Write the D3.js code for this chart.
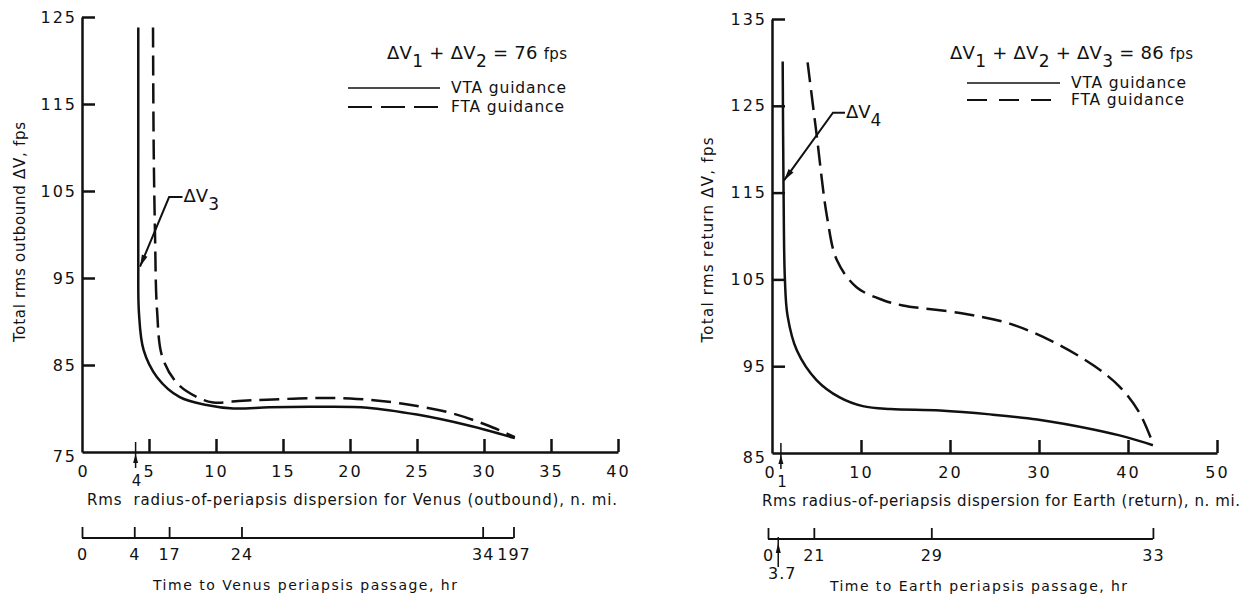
<!DOCTYPE html>
<html>
<head>
<meta charset="utf-8">
<script src="https://d3js.org/d3.v7.min.js"></script>
<style>
  body { margin: 0; background: #fff; }
  text { font-family: "DejaVu Sans", sans-serif; fill: #111; white-space: pre; }
</style>
</head>
<body>
<svg id="chart" width="1258" height="600"></svg>
<script>
// ---- Venus (outbound) panel data: [dispersion n.mi., total rms dV fps]
var venusVTA = [[4.2,123.8],[4.2,110],[4.2,97],[4.25,91],[4.6,86.7],[5.6,83.6],[7.3,81.3],[9.3,80.4],[11.3,80.0],[14,80.15],[17.5,80.2],[21.3,80.1],[25,79.3],[28.7,78.1],[32.3,76.6]];
var venusFTA = [[5.3,123.8],[5.35,110],[5.45,100],[5.6,91.3],[6.0,85.9],[7.1,82.9],[8.6,81.3],[9.8,80.7],[12,80.9],[13.8,81.0],[17.2,81.2],[20.5,81.1],[23.7,80.6],[27.5,79.5],[30.2,78.1],[32.3,76.7]];
var venusXTicks = [0,5,10,15,20,25,30,35,40];
var venusYTicks = [75,85,95,105,115,125];
var venusTimePos = [0,3.9,6.5,11.9,29.9,32.2];
var venusTimeLabels = ["0","4","17","24","34","197"];

// ---- Earth (return) panel data
var earthVTA = [[1.2,130.1],[1.3,115],[1.45,105],[1.75,100.8],[2.8,96.8],[5.0,93.4],[7.6,91.4],[10.2,90.4],[13.3,90.06],[18.9,89.9],[24.5,89.45],[29.8,88.85],[36.1,87.7],[39.9,86.8],[42.8,85.9]];
var earthFTA = [[4.0,130],[5.0,121.8],[6.2,112.1],[7.3,107.2],[9.5,104.1],[12.5,102.6],[14.7,102.0],[21.3,101.1],[26.7,99.9],[31.6,97.8],[36.1,95.1],[39.1,92.6],[41.3,89.6],[42.8,86.1]];
var earthXTicks = [0,10,20,30,40,50];
var earthYTicks = [85,95,105,115,125,135];
var earthTimePos = [-0.45,4.7,17.9,42.8];
var earthTimeLabels = ["0","21","29","33"];

var svg = d3.select("#chart");

function arrowHead(g, x1, y1, x2, y2, len, wid){
    // filled triangle with tip at (x2,y2)
    var a = Math.atan2(y2 - y1, x2 - x1);
    var bx = x2 - len*Math.cos(a), by = y2 - len*Math.sin(a);
    var px = -Math.sin(a)*wid/2, py = Math.cos(a)*wid/2;
    g.append("path")
        .attr("d", "M" + x2 + "," + y2 + "L" + (bx+px) + "," + (by+py) + "L" + (bx-px) + "," + (by-py) + "Z")
        .attr("fill", "#111");
}

function drawPanel(p){
    var g = svg.append("g");
    var x = d3.scaleLinear().domain(p.xDomain).range(p.xRange);
    var y = d3.scaleLinear().domain(p.yDomain).range(p.yRange);

    // axes
    var xa = g.append("g")
        .attr("transform", "translate(0," + p.yRange[0] + ")")
        .call(d3.axisBottom(x).tickValues(p.xTicks).tickSize(-13).tickSizeOuter(0).tickPadding(14));
    var ya = g.append("g")
        .attr("transform", "translate(" + p.xRange[0] + ",0)")
        .call(d3.axisLeft(y).tickValues(p.yTicks).tickSize(-13).tickSizeOuter(0).tickPadding(5));
    [xa, ya].forEach(function(a){
        a.selectAll("path, line").attr("stroke", "#111").attr("stroke-width", 2.5);
        a.selectAll("text").attr("font-size", 16).attr("letter-spacing", 2).attr("fill", "#111")
            .attr("font-family", "DejaVu Sans");
    });
    var zero = xa.selectAll(".tick").filter(function(d){ return d == 0; });
    zero.select("line").remove();
    zero.select("text").attr("letter-spacing", 0).attr("dx", p.zeroShift);
    ya.selectAll(".tick").filter(function(d){ return d == p.yDomain[0]; }).select("line").remove();
    ya.selectAll(".tick").filter(function(d){ return d == p.yDomain[0]; }).select("text").attr("dy", "0.6em");

    // marked value under the x axis
    var y0 = p.yRange[0], mx = x(p.markX);
    g.append("line").attr("x1", mx).attr("x2", mx).attr("y1", y0 - 10).attr("y2", y0 + 16)
        .attr("stroke", "#111").attr("stroke-width", 1.5);
    arrowHead(g, mx, y0 + 14, mx, y0 + 2, 9, 5);
    g.append("text").attr("x", mx + 1).attr("y", y0 + 34).attr("text-anchor", "middle")
        .attr("font-size", 15).text(p.markLabel);

    // curves
    var line = d3.line()
        .curve(d3.curveCatmullRom.alpha(0.5))
        .x(function(d){ return x(d[0]); })
        .y(function(d){ return y(d[1]); });
    g.append("path").datum(p.vta).attr("d", line)
        .attr("fill", "none").attr("stroke", "#111").attr("stroke-width", 2.5);
    g.append("path").datum(p.fta).attr("d", line)
        .attr("fill", "none").attr("stroke", "#111").attr("stroke-width", 2.5).attr("stroke-dasharray", "20,8");

    // dV annotation
    var ex = x(p.note.elbow[0]), ey = y(p.note.elbow[1]);
    var tx = x(p.note.tip[0]), ty = y(p.note.tip[1]);
    g.append("path").attr("d", "M" + x(p.note.end) + "," + ey + "L" + ex + "," + ey + "L" + tx + "," + ty)
        .attr("fill", "none").attr("stroke", "#111").attr("stroke-width", 2);
    arrowHead(g, ex, ey, tx, ty, 12, 6);
    var nt = g.append("text").attr("x", x(p.note.end) + 1).attr("y", ey + 5).attr("font-size", 18).text("ΔV");
    nt.append("tspan").attr("dy", 8).attr("font-size", 17).text(p.note.sub);

    // legend
    var lg = p.legend;
    var t = g.append("text").attr("x", lg.tx).attr("y", lg.ty).attr("font-size", 18).attr("textLength", lg.tw);
    lg.terms.forEach(function(s, i){
        t.append("tspan").attr("dy", i == 0 ? 0 : -8).text((i == 0 ? "" : " + ") + "ΔV");
        t.append("tspan").attr("dy", 8).attr("font-size", 17).text(s);
    });
    t.append("tspan").attr("dy", -8).text(" = " + lg.total + " ");
    t.append("tspan").attr("font-size", 15).text("fps");
    g.append("line").attr("x1", lg.lx1).attr("x2", lg.lx2).attr("y1", lg.y1).attr("y2", lg.y1)
        .attr("stroke", "#111").attr("stroke-width", 1.6);
    g.append("line").attr("x1", lg.lx1).attr("x2", lg.lx2).attr("y1", lg.y2).attr("y2", lg.y2)
        .attr("stroke", "#111").attr("stroke-width", 2).attr("stroke-dasharray", lg.dash);
    g.append("text").attr("x", lg.lx2 + 11).attr("y", lg.y1 + 5).attr("font-size", 15.5)
        .attr("textLength", lg.lw).text("VTA guidance");
    g.append("text").attr("x", lg.lx2 + 11).attr("y", lg.y2 + 5).attr("font-size", 15.5)
        .attr("textLength", lg.lw - 2).text("FTA guidance");

    // axis titles
    g.append("text").attr("x", p.xTitle.x).attr("y", p.xTitle.y).attr("font-size", 15)
        .attr("textLength", p.xTitle.w).text(p.xTitle.text);
    g.append("text").attr("transform", "translate(" + p.yTitle.x + "," + p.yTitle.y + ") rotate(-90)")
        .attr("text-anchor", "middle").attr("font-size", 15).attr("textLength", p.yTitle.w).text(p.yTitle.text);

    // time scale under the chart
    var ty0 = p.time.y;
    var ta = g.append("g").attr("transform", "translate(0," + ty0 + ")")
        .call(d3.axisBottom(x).tickValues(p.time.pos).tickFormat(function(d, i){ return p.time.labels[i]; })
            .tickSize(-11).tickPadding(11));
    ta.select(".domain").remove();
    ta.selectAll("line").attr("stroke", "#111").attr("stroke-width", 1.8);
    ta.selectAll("text").attr("font-size", 16).attr("letter-spacing", 1).attr("fill", "#111")
        .attr("font-family", "DejaVu Sans");
    ta.append("line").attr("x1", x(p.time.pos[0])).attr("x2", x(p.time.pos[p.time.pos.length - 1]))
        .attr("y1", 0).attr("y2", 0).attr("stroke", "#111").attr("stroke-width", 1.8);
    if (p.time.markX != null){
        var ax = x(p.time.markX);
        g.append("line").attr("x1", ax).attr("x2", ax).attr("y1", ty0 - 2).attr("y2", ty0 + 28)
            .attr("stroke", "#111").attr("stroke-width", 1.5);
        arrowHead(g, ax, ty0 + 20, ax, ty0 + 4, 10, 5);
        g.append("text").attr("x", ax + 4).attr("y", ty0 + 40).attr("text-anchor", "middle")
            .attr("font-size", 16).attr("letter-spacing", 1).text(p.time.markLabel);
    }
    g.append("text").attr("x", p.time.tx).attr("y", ty0 + 52).attr("font-size", 14)
        .attr("textLength", p.time.tw).text(p.time.title);
}

drawPanel({
    xDomain: [0, 40], xRange: [82, 618], yDomain: [75, 125], yRange: [452, 17],
    xTicks: venusXTicks, yTicks: venusYTicks, zeroShift: 0,
    markX: 4, markLabel: "4",
    vta: venusVTA, fta: venusFTA,
    note: {elbow: [6.5, 104.3], end: 7.5, tip: [4.33, 96.3], sub: "3"},
    legend: {tx: 387, ty: 59, tw: 180, terms: ["1", "2"], total: "76",
             lx1: 348, lx2: 440, y1: 88, y2: 107, dash: "24,9", lw: 115},
    xTitle: {x: 87, y: 505, w: 530, text: "Rms  radius-of-periapsis dispersion for Venus (outbound), n. mi."},
    yTitle: {x: 25, y: 232, w: 220, text: "Total rms outbound ΔV, fps"},
    time: {y: 538, pos: venusTimePos, labels: venusTimeLabels, markX: null,
           tx: 153, tw: 304, title: "Time to Venus periapsis passage, hr"}
});

drawPanel({
    xDomain: [0, 50], xRange: [772, 1217], yDomain: [85, 135], yRange: [453, 19],
    xTicks: earthXTicks, yTicks: earthYTicks, zeroShift: -3,
    markX: 1, markLabel: "1",
    vta: earthVTA, fta: earthFTA,
    note: {elbow: [6.85, 124.2], end: 8.2, tip: [1.35, 116.4], sub: "4"},
    legend: {tx: 950, ty: 59, tw: 243, terms: ["1", "2", "3"], total: "86",
             lx1: 967, lx2: 1060, y1: 83, y2: 100, dash: "20,12", lw: 115},
    xTitle: {x: 762, y: 506, w: 478, text: "Rms radius-of-periapsis dispersion for Earth (return), n. mi."},
    yTitle: {x: 713, y: 240, w: 205, text: "Total rms return ΔV, fps"},
    time: {y: 539, pos: earthTimePos, labels: earthTimeLabels, markX: 0.7, markLabel: "3.7",
           tx: 830, tw: 297, title: "Time to Earth periapsis passage, hr"}
});
</script>
</body>
</html>
